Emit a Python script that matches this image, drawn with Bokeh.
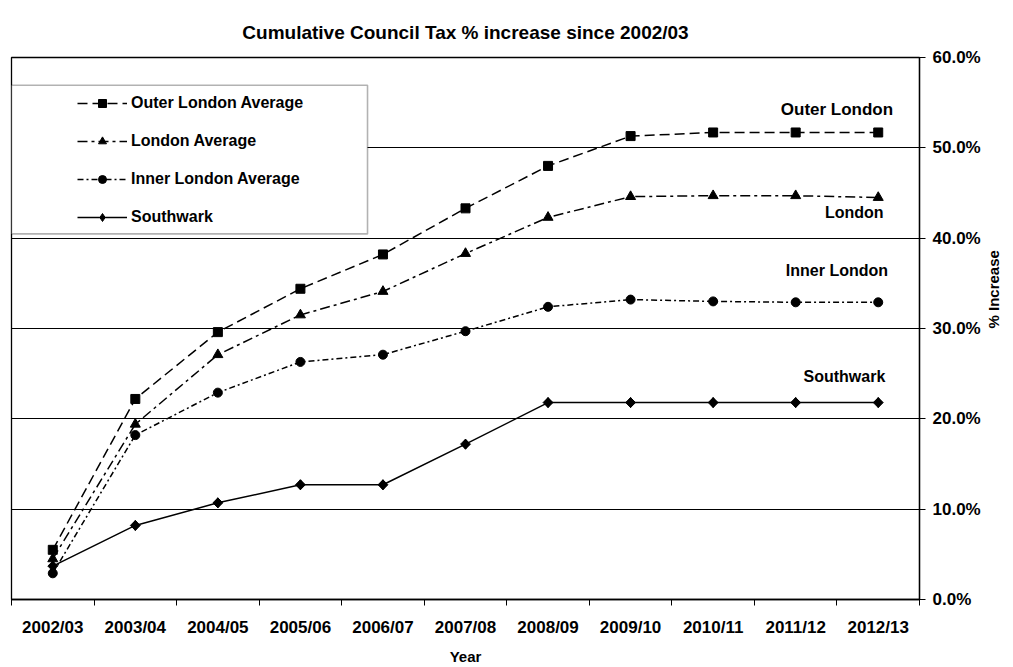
import math
from bokeh.plotting import figure
from bokeh.models import (Range1d, FixedTicker, PrintfTickFormatter, Legend, LegendItem,
                          BoxAnnotation, LinearAxis, Title)
from bokeh.core.properties import value
from bokeh.embed import file_html
from bokeh.resources import INLINE

years = ["2002/03", "2003/04", "2004/05", "2005/06", "2006/07", "2007/08",
         "2008/09", "2009/10", "2010/11", "2011/12", "2012/13"]
outer_london = [5.5, 22.2, 29.6, 34.4, 38.2, 43.3, 48.0, 51.3, 51.7, 51.7, 51.7]
london = [4.5, 19.4, 27.1, 31.5, 34.1, 38.3, 42.3, 44.6, 44.7, 44.7, 44.5]
inner_london = [2.9, 18.2, 22.9, 26.3, 27.1, 29.7, 32.4, 33.2, 33.0, 32.9, 32.9]
southwark = [3.7, 8.2, 10.7, 12.7, 12.7, 17.2, 21.8, 21.8, 21.8, 21.8, 21.8]
y_ticks = [0, 10, 20, 30, 40, 50, 60]

series_labels = ["Outer London", "London", "Inner London", "Southwark"]
label_x = [10.0, 10.21, 10.0, 10.09]
label_y = [54.2, 42.8, 36.4, 24.7]
label_sizes = ["17px", "16px", "16px", "16px"]

FONT = "Liberation Sans"

xs = [i + 0.5 for i in range(len(years))]

p = figure(width=1013, height=667, output_backend="svg", toolbar_location=None,
           x_range=Range1d(0, len(years)), y_range=Range1d(0, 60),
           x_axis_type=None, y_axis_location="right",
           min_border_left=11, min_border_right=94, min_border_top=57, min_border_bottom=63)
p.background_fill_color = "white"
p.border_fill_color = "white"
p.outline_line_color = "black"
p.outline_line_width = 1.3

t = Title(text="Cumulative Council Tax % increase since 2002/03", align="center",
          text_font=FONT, text_font_size="19px", text_font_style="bold", text_color="black",
          standoff=29)
p.add_layout(t, "above")

# x axis with tick marks on category boundaries
xaxis = LinearAxis(ticker=FixedTicker(ticks=xs, minor_ticks=list(range(len(years) + 1))),
                   major_label_overrides={x: y for x, y in zip(xs, years)})
xaxis.axis_label = "Year"
xaxis.axis_label_text_font = FONT
xaxis.axis_label_text_font_size = "15px"
xaxis.axis_label_text_font_style = "bold"
xaxis.axis_label_text_color = "black"
xaxis.axis_label_standoff = 8
xaxis.major_label_text_font = FONT
xaxis.major_label_text_font_size = "17px"
xaxis.major_label_text_font_style = "bold"
xaxis.major_label_text_color = "black"
xaxis.major_label_standoff = 12
xaxis.major_tick_line_color = None
xaxis.major_tick_out = 6
xaxis.major_tick_in = 0
xaxis.minor_tick_line_color = "black"
xaxis.minor_tick_out = 6
xaxis.minor_tick_in = 0
xaxis.axis_line_color = "black"
xaxis.axis_line_width = 1.3
p.add_layout(xaxis, "below")

ya = p.yaxis[0]
ya.ticker = FixedTicker(ticks=y_ticks, minor_ticks=[])
ya.formatter = PrintfTickFormatter(format="%.1f%%")
ya.axis_label = "% Increase"
ya.axis_label_orientation = math.pi / 2
ya.axis_label_text_font = FONT
ya.axis_label_text_font_size = "15px"
ya.axis_label_text_font_style = "bold"
ya.axis_label_text_color = "black"
ya.axis_label_standoff = 10
ya.major_label_text_font = FONT
ya.major_label_text_font_size = "17px"
ya.major_label_text_font_style = "bold"
ya.major_label_text_color = "black"
ya.major_label_standoff = 7
ya.major_tick_out = 6
ya.major_tick_in = 0
ya.major_tick_line_color = "black"
ya.axis_line_color = "black"
ya.axis_line_width = 1.3

p.xgrid.visible = False
p.ygrid.ticker = FixedTicker(ticks=y_ticks)
p.ygrid.grid_line_color = "black"
p.ygrid.grid_line_width = 1.2

lw = 1.5
r1 = p.line(xs, outer_london, line_color="black", line_width=lw, line_dash="10 5")
m1 = p.scatter(xs, outer_london, marker="square", size=9, color="black")
r2 = p.line(xs, london, line_color="black", line_width=lw, line_dash="10 4 3 4")
m2 = p.scatter(xs, london, marker="triangle", size=10, color="black")
r3 = p.line(xs, inner_london, line_color="black", line_width=lw, line_dash="6 3 2 3")
m3 = p.scatter(xs, inner_london, marker="circle", size=9, color="black")
r4 = p.line(xs, southwark, line_color="black", line_width=lw)
m4d = p.scatter(xs, southwark, marker="diamond", size=10, color="black")
m4 = p.scatter(xs, southwark, marker="square", size=7, angle=math.pi / 4, color="black")

p.text(x=label_x, y=label_y, text=series_labels, text_align="center", text_baseline="middle",
       text_font=value(FONT), text_font_style="bold", text_font_size=label_sizes,
       text_color="black")

# legend frame
box = BoxAnnotation(left=0, right=4.313, top=56.93, bottom=40.47,
                    fill_color="white", fill_alpha=1.0, line_color="black", line_width=1.6)
p.add_layout(box)

legend = Legend(items=[
    LegendItem(label="Outer London Average", renderers=[r1, m1]),
    LegendItem(label="London Average", renderers=[r2, m2]),
    LegendItem(label="Inner London Average", renderers=[r3, m3]),
    LegendItem(label="Southwark", renderers=[r4, m4d]),
], location=(66, 372))
legend.border_line_color = None
legend.background_fill_alpha = 0
legend.padding = 0
legend.margin = 0
legend.spacing = 18
legend.glyph_height = 20
legend.glyph_width = 50
legend.label_standoff = 4
legend.label_text_font = FONT
legend.label_text_font_size = "16px"
legend.label_text_font_style = "bold"
legend.label_text_color = "black"
p.add_layout(legend)

open("out.html", "w").write(file_html(p, INLINE))
